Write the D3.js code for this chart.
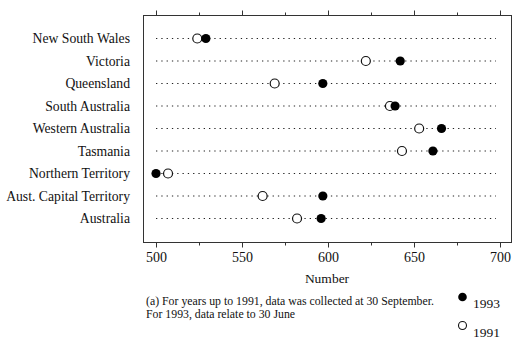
<!DOCTYPE html>
<html><head><meta charset="utf-8">
<script src="https://cdn.jsdelivr.net/npm/d3@7/dist/d3.min.js"></script>
<style>body{margin:0;background:#fff}svg{display:block}text{font-family:"Liberation Serif","DejaVu Serif",serif;fill:#111}</style>
</head><body>
<script>
const categories = ["New South Wales","Victoria","Queensland","South Australia","Western Australia","Tasmania","Northern Territory","Aust. Capital Territory","Australia"];
const values1993 = [529, 642, 597, 639, 666, 661, 500, 597, 596];
const values1991 = [524, 622, 569, 636, 653, 643, 507, 562, 582];
const majorTicks = [500, 550, 600, 650, 700];
const minorTicks = [525, 575, 625, 675];
const xTitle = "Number";
const noteLines = ["(a) For years up to 1991, data was collected at 30 September.", "For 1993, data relate to 30 June"];
const legendLabels = ["1993", "1991"];

const W = 524, H = 345;
const svg = d3.select("body").append("svg").attr("width", W).attr("height", H);
const frame = {l: 143.5, r: 511.5, t: 15.5, b: 242.5};
const x = d3.scaleLinear().domain([500, 700]).range([156, 500]);
const y = d3.scalePoint().domain(categories).range([38.5, 218.5]);

// dotted guide lines
svg.append("g").selectAll("line").data(categories).join("line")
  .attr("x1", 156).attr("x2", 496)
  .attr("y1", d => y(d)).attr("y2", d => y(d))
  .attr("stroke", "#222").attr("stroke-width", 1.2)
  .attr("stroke-dasharray", "1.3,4");

// frame
svg.append("rect").attr("x", frame.l).attr("y", frame.t)
  .attr("width", frame.r - frame.l).attr("height", frame.b - frame.t)
  .attr("fill", "none").attr("stroke", "#333").attr("stroke-width", 1);

// axes
const gb = svg.append("g").attr("transform", `translate(0,${frame.b})`);
gb.call(d3.axisBottom(x).tickValues(majorTicks).tickSize(5).tickPadding(5).tickFormat(d3.format("d")));
const gbm = svg.append("g").attr("transform", `translate(0,${frame.b})`);
gbm.call(d3.axisBottom(x).tickValues(minorTicks).tickSize(3).tickFormat(""));
const gt = svg.append("g").attr("transform", `translate(0,${frame.t})`);
gt.call(d3.axisTop(x).tickValues(majorTicks).tickSize(5).tickFormat(""));
const gtm = svg.append("g").attr("transform", `translate(0,${frame.t})`);
gtm.call(d3.axisTop(x).tickValues(minorTicks).tickSize(3).tickFormat(""));
[gb, gbm, gt, gtm].forEach(g => {
  g.attr("font-family", null);
  g.select(".domain").remove();
  g.selectAll("line").attr("stroke", "#333");
  g.selectAll("text").attr("font-size", 14).attr("fill", "#111");
});

// y labels
svg.append("g").selectAll("text").data(categories).join("text")
  .attr("x", 130).attr("y", d => y(d)).attr("dy", "0.35em")
  .attr("text-anchor", "end").attr("font-size", 13.7).text(d => d);

// points
svg.append("g").selectAll("circle").data(categories).join("circle")
  .attr("cx", (d, i) => x(values1991[i])).attr("cy", d => y(d)).attr("r", 4.5)
  .attr("fill", "#fff").attr("stroke", "#111").attr("stroke-width", 1.2);
svg.append("g").selectAll("circle").data(categories).join("circle")
  .attr("cx", (d, i) => x(values1993[i])).attr("cy", d => y(d)).attr("r", 4.6)
  .attr("fill", "#000");

// axis title
svg.append("text").attr("x", (x(500) + x(700)) / 2 - 1).attr("y", 283)
  .attr("text-anchor", "middle").attr("font-size", 13.5).text(xTitle);

// footnote
svg.append("g").selectAll("text").data(noteLines).join("text")
  .attr("x", 146).attr("y", (d, i) => 305 + i * 13)
  .attr("font-size", 11.8).text(d => d);

// legend
svg.append("circle").attr("cx", 462.5).attr("cy", 297).attr("r", 4.3).attr("fill", "#000");
svg.append("circle").attr("cx", 462.5).attr("cy", 325.5).attr("r", 4).attr("fill", "#fff").attr("stroke", "#111").attr("stroke-width", 1.1);
svg.append("text").attr("x", 473).attr("y", 307.5).attr("font-size", 13.5).text(legendLabels[0]);
svg.append("text").attr("x", 473).attr("y", 336.5).attr("font-size", 13.5).text(legendLabels[1]);
</script>
</body></html>
